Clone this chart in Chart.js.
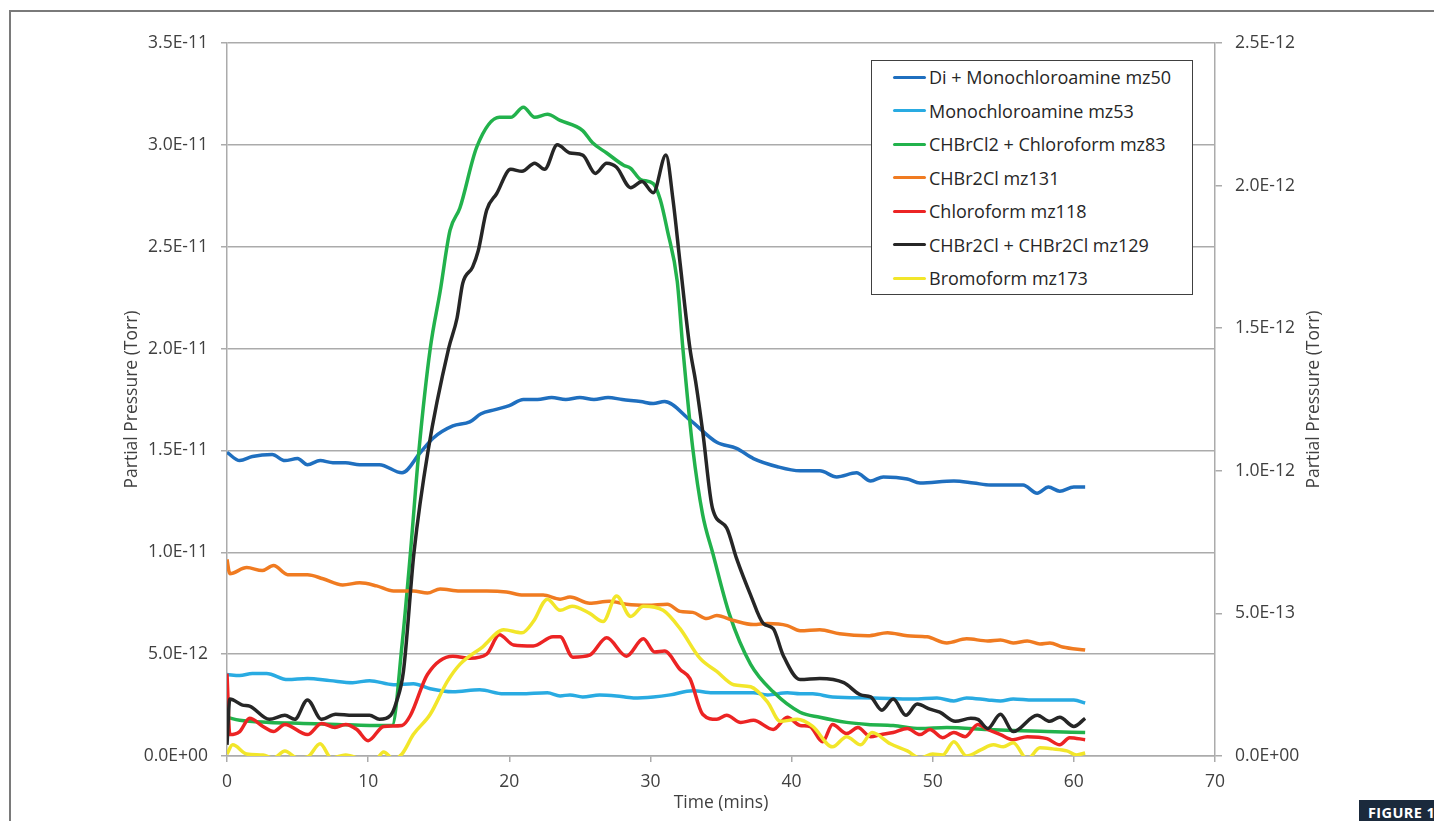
<!DOCTYPE html>
<html>
<head>
<meta charset="utf-8">
<title>Partial Pressure</title>
<script src="https://cdn.jsdelivr.net/npm/chart.js@4"></script>
<style>
    body { margin: 0; background: #fff; }
    #wrap { position: relative; width: 1434px; height: 821px; overflow: hidden; font-family: 'Open Sans', sans-serif; }
    #frame { position: absolute; left: 9px; top: 10px; width: 2000px; height: 2000px; border-left: 2px solid #7a7a7a; border-top: 2px solid #7a7a7a; }
    #chart { position: absolute; left: 0; top: 0; }
    #legend { position: absolute; left: 871px; top: 60px; width: 320px; height: 233px; border: 1.5px solid #404040; background: #fff; }
    .row { position: relative; height: 33.5px; line-height: 32.5px; font-size: 18px; color: #262626; white-space: nowrap; }
    .row span.swatch { position: absolute; left: 21px; top: 14.5px; width: 33px; height: 3px; border-radius: 1.5px; }
    .row span.label { position: absolute; left: 57px; }
    #badge { position: absolute; left: 1359px; top: 800px; width: 120px; height: 25px; background: #1b2a3c; color: #fff; font-weight: 700; font-size: 14.5px; line-height: 25px; padding-left: 9px; letter-spacing: 0.4px; }
</style>
</head>
<body>
<div id="wrap">
    <div id="frame"></div>
    <canvas id="chart" width="1434" height="821"></canvas>
    <div id="legend"></div>
    <div id="badge">FIGURE 1</div>
</div>
<script>
// --- Data: [time (mins), partial pressure in 1E-12 Torr] ---
const mz50 = [[0,14.9],[0.9,14.5],[1.8,14.7],[3.2,14.8],[4.1,14.5],[5.0,14.6],[5.7,14.3],[6.6,14.5],[7.5,14.4],[8.4,14.4],[9.4,14.3],[10.8,14.3],[12.4,13.9],[13.7,14.9],[14.6,15.6],[16.0,16.2],[17.2,16.4],[18,16.8],[19,17.0],[20,17.2],[21,17.5],[22,17.5],[23,17.6],[24,17.5],[25,17.6],[26,17.5],[27,17.6],[28,17.5],[29.3,17.4],[30.2,17.3],[31.0,17.4],[32.8,16.5],[34.7,15.4],[36.1,15.1],[37.3,14.6],[39.0,14.2],[40.6,14.0],[42.0,14.0],[43.2,13.7],[44.6,13.9],[45.6,13.5],[46.5,13.7],[48.2,13.6],[49.1,13.4],[51.5,13.5],[52.9,13.4],[54.1,13.3],[56.4,13.3],[57.4,12.9],[58.2,13.2],[59.0,13.0],[60.0,13.2],[60.8,13.2]];
const mz53 = [[0,4.0],[0.9,3.95],[1.8,4.05],[2.8,4.05],[4.3,3.75],[5.7,3.8],[7.3,3.7],[8.9,3.6],[10.1,3.7],[11.8,3.5],[13.2,3.55],[14.4,3.3],[16.0,3.15],[17.9,3.25],[19.6,3.05],[20.8,3.05],[22.7,3.1],[23.6,2.95],[24.3,3.0],[25.2,2.9],[26.4,3.0],[27.6,2.95],[28.8,2.85],[30.2,2.9],[31.4,3.0],[33.0,3.2],[34.4,3.1],[37.3,3.1],[38.3,3.0],[39.7,3.1],[40.6,3.05],[41.5,3.05],[42.9,2.9],[45.8,2.85],[48.6,2.8],[50.3,2.85],[51.5,2.7],[52.4,2.85],[53.9,2.75],[54.8,2.7],[55.7,2.8],[57.1,2.75],[58.5,2.75],[60.0,2.75],[60.8,2.6]];
const mz83 = [[0,1.9],[0.9,1.75],[3.0,1.65],[5.4,1.6],[7.8,1.55],[10.1,1.5],[11.7,1.5],[12.4,5.45],[13.0,10.0],[13.6,15.0],[14.4,20.0],[15.1,22.8],[15.8,25.8],[16.5,26.9],[17.7,29.9],[19.3,31.35],[20.1,31.35],[21.0,31.85],[21.8,31.35],[22.7,31.5],[23.6,31.2],[25.2,30.7],[25.9,30.1],[26.9,29.6],[28.1,29.0],[28.6,28.85],[29.3,28.3],[30.2,28.1],[30.7,27.3],[31.2,25.8],[31.9,23.3],[32.3,20.0],[33.0,15.1],[33.7,11.85],[34.4,10.0],[35.6,6.95],[37.1,4.5],[38.7,3.15],[40.6,2.15],[42.0,1.9],[43.9,1.65],[45.4,1.55],[47.2,1.5],[49.1,1.35],[51.0,1.4],[53.9,1.3],[55.7,1.25],[58.1,1.2],[60.8,1.15]];
const mz131 = [[0,9.65],[0.2,8.95],[1.4,9.25],[2.5,9.1],[3.3,9.35],[4.3,8.9],[5.7,8.9],[6.8,8.7],[8.2,8.4],[9.4,8.5],[10.6,8.35],[11.8,8.1],[13.2,8.1],[14.2,8.0],[15.1,8.2],[16.5,8.1],[18.4,8.1],[19.8,8.05],[21.0,7.9],[22.4,7.9],[23.6,7.7],[24.3,7.8],[25.7,7.5],[27.1,7.6],[28.3,7.45],[29.8,7.4],[31.2,7.45],[32.1,7.1],[33.0,7.05],[34.0,6.75],[34.7,6.9],[35.9,6.65],[37.3,6.45],[38.3,6.5],[39.7,6.4],[40.6,6.15],[42.0,6.2],[43.4,6.0],[45.4,5.9],[46.8,6.05],[48.2,5.9],[49.6,5.85],[51.0,5.55],[52.4,5.75],[53.9,5.65],[54.8,5.7],[55.7,5.55],[56.7,5.65],[57.6,5.5],[58.3,5.55],[59.2,5.35],[60.8,5.2]];
const mz118 = [[0,4.05],[0.2,1.05],[0.9,1.2],[1.6,1.85],[2.55,1.45],[3.3,1.2],[4.1,1.55],[5.7,1.05],[6.7,1.6],[7.65,1.4],[8.4,1.55],[9.2,1.3],[10.0,0.75],[11.1,1.45],[12.4,1.5],[13.0,2.0],[14.2,4.0],[16.0,4.9],[17.2,4.8],[18.4,5.0],[19.3,5.95],[20.3,5.45],[21.7,5.4],[23.1,5.85],[23.6,5.85],[24.5,4.85],[25.7,4.95],[26.9,5.8],[28.3,4.9],[29.5,5.75],[30.3,5.1],[31.0,5.15],[32.1,4.25],[32.8,3.8],[33.7,2.05],[34.7,1.8],[35.4,2.0],[36.4,1.65],[37.3,1.75],[38.7,1.3],[39.7,1.9],[40.6,1.5],[41.3,1.45],[42.2,0.7],[42.9,1.55],[43.9,1.1],[44.7,1.4],[45.6,0.95],[46.3,1.05],[47.2,1.15],[48.2,1.35],[49.1,1.05],[49.8,1.3],[50.7,0.9],[51.5,1.15],[52.3,0.95],[53.2,1.55],[53.9,1.3],[54.8,1.05],[55.7,0.8],[56.7,0.95],[58.1,0.85],[59.0,0.55],[59.7,0.9],[60.8,0.8]];
const mz129 = [[0,0.55],[0.2,2.8],[1.1,2.5],[1.6,2.45],[3.0,1.8],[4.1,2.0],[4.8,1.8],[5.7,2.75],[6.7,1.8],[7.7,2.05],[8.9,2.0],[10.1,2.0],[10.8,1.8],[11.6,2.0],[12.0,2.65],[12.5,4.15],[13.25,10.0],[14.25,15.0],[15.7,20.0],[16.3,21.5],[16.7,23.2],[17.4,24.0],[17.8,24.8],[18.4,26.8],[19.1,27.6],[20.1,28.8],[20.9,28.7],[21.8,29.1],[22.5,28.8],[23.4,30.0],[24.3,29.6],[25.2,29.5],[26.1,28.6],[26.9,29.1],[27.6,28.9],[28.6,27.9],[29.4,28.2],[30.2,27.65],[31.1,29.5],[31.6,27.3],[32.1,24.2],[32.8,20.0],[33.2,18.4],[33.7,15.95],[34.4,12.15],[35.4,11.2],[36.1,9.7],[37.1,7.9],[38.0,6.5],[38.7,6.25],[39.4,4.95],[40.6,3.75],[42.0,3.8],[43.7,3.6],[44.9,3.0],[45.6,2.9],[46.4,2.25],[47.2,2.8],[48.1,2.0],[48.9,2.55],[49.8,2.3],[50.5,2.15],[51.6,1.7],[52.7,1.85],[53.2,1.8],[53.9,1.35],[54.8,2.05],[55.7,1.2],[57.4,2.0],[58.3,1.7],[59.0,1.9],[60.0,1.45],[60.8,1.85]];
const mz173 = [[0,0.1],[0.4,0.55],[1.4,0.1],[2.55,0.05],[3.3,-0.1],[4.1,0.25],[5.0,-0.1],[5.7,-0.05],[6.6,0.6],[7.4,-0.1],[8.4,0.05],[9.4,-0.15],[10.3,-0.4],[11.1,0.2],[11.8,-0.15],[12.4,0.1],[13.2,1.05],[14.4,2.05],[15.6,3.65],[16.5,4.5],[18.1,5.35],[19.6,6.2],[20.9,6.05],[21.7,6.6],[22.7,7.7],[23.6,7.15],[24.45,7.35],[25.7,7.0],[26.65,6.6],[27.6,7.85],[28.6,6.85],[29.5,7.35],[30.9,7.15],[32.1,6.25],[33.5,4.8],[34.7,4.15],[35.9,3.5],[37.1,3.4],[38.3,2.65],[39.2,1.7],[40.4,1.8],[41.5,1.45],[42.9,0.45],[43.9,0.95],[44.9,0.55],[45.7,1.15],[47.0,0.6],[48.2,0.25],[49.1,-0.1],[50.0,0.1],[50.7,0.05],[51.5,0.7],[52.4,0.0],[53.4,0.3],[54.3,0.55],[55.0,0.45],[55.7,0.65],[56.7,-0.15],[57.6,0.4],[58.5,0.35],[59.5,0.25],[60.2,0.05],[60.8,0.15]];

const seriesLabels = ['Di + Monochloroamine mz50', 'Monochloroamine mz53', 'CHBrCl2 + Chloroform mz83', 'CHBr2Cl mz131', 'Chloroform mz118', 'CHBr2Cl + CHBr2Cl mz129', 'Bromoform mz173'];
const seriesData = [mz50, mz53, mz83, mz131, mz118, mz129, mz173];
const seriesColors = ['#1f6fbf', '#29abe2', '#22b24c', '#f07b21', '#ec2424', '#262626', '#f2e62a'];

const xTicks = { min: 0, max: 70, step: 10 };
const leftTicks = { min: 0, max: 35, step: 5 };     // 1E-12 Torr
const rightTicks = { min: 0, max: 2.5, step: 0.5 }; // 1E-12 Torr
const yTitle = 'Partial Pressure (Torr)';

document.addEventListener('DOMContentLoaded', () => {
    const canvas = document.getElementById('chart');
    const legend = document.getElementById('legend');
    const gridColor = '#ababab';
    const textColor = '#404040';
    const font = { family: "'Open Sans', sans-serif", size: 17.5 };

    // 1E-12 units -> "3.5E-11" style labels
    function sci(v) {
        const val = v * 1e-12;
        if (Math.abs(val) < 1e-20) return '0.0E+00';
        const [m, e] = val.toExponential(1).split('e');
        const n = parseInt(e, 10);
        return m + 'E' + (n < 0 ? '-' : '+') + String(Math.abs(n)).padStart(2, '0');
    }

    // right axis title reads bottom-to-top like the left one
    const rightTitle = {
        id: 'rightTitle',
        afterDraw(chart) {
            const s = chart.scales.y2;
            const ctx = chart.ctx;
            ctx.save();
            ctx.translate(s.right - 10.5, (chart.chartArea.top + chart.chartArea.bottom) / 2);
            ctx.rotate(-Math.PI / 2);
            ctx.fillStyle = textColor;
            ctx.font = `${font.size}px ${font.family}`;
            ctx.textAlign = 'center';
            ctx.textBaseline = 'middle';
            ctx.fillText(yTitle, 0, 0);
            ctx.restore();
        }
    };

    const datasets = seriesData.map((pts, i) => ({
        label: seriesLabels[i],
        data: pts.map(p => ({ x: p[0], y: p[1] })),
        borderColor: seriesColors[i],
        backgroundColor: seriesColors[i],
        borderWidth: 3.5,
        pointRadius: 0,
        cubicInterpolationMode: 'monotone',
        order: seriesData.length - i,
        yAxisID: 'y'
    }));

    new Chart(canvas, {
        type: 'line',
        data: { datasets },
        plugins: [rightTitle],
        options: {
            responsive: false,
            animation: false,
            events: [],
            layout: { padding: { left: 121.5, right: 109, top: 43, bottom: 7 } },
            plugins: { legend: { display: false }, tooltip: { enabled: false } },
            scales: {
                x: {
                    type: 'linear', min: xTicks.min, max: xTicks.max,
                    ticks: { stepSize: xTicks.step, color: textColor, font, padding: 10 },
                    grid: { drawOnChartArea: false, color: gridColor, tickLength: 6, lineWidth: 1.5 },
                    border: { color: gridColor, width: 1.5 },
                    title: { display: true, text: 'Time (mins)', color: textColor, font, padding: 0 },
                    afterFit: s => { s.height = 58; }
                },
                y: {
                    position: 'left', min: leftTicks.min, max: leftTicks.max,
                    ticks: { stepSize: leftTicks.step, color: textColor, font, padding: 13, callback: v => sci(v) },
                    grid: { color: gridColor, tickLength: 6, lineWidth: 1.5 },
                    border: { color: gridColor, width: 1.5 },
                    title: { display: true, text: yTitle, color: textColor, font, padding: 0 },
                    afterFit: s => { s.width = 105.5; }
                },
                y2: {
                    position: 'right', min: rightTicks.min, max: rightTicks.max,
                    ticks: { stepSize: rightTicks.step, color: textColor, font, padding: 13, callback: v => sci(v) },
                    grid: { drawOnChartArea: false, color: gridColor, tickLength: 7, lineWidth: 1.5 },
                    border: { color: gridColor, width: 1.5 },
                    title: { display: false },
                    afterFit: s => { s.width = 110; }
                }
            }
        }
    });

    // --- legend box inside the plot ---
    seriesLabels.forEach((label, i) => {
        const row = document.createElement('div');
        row.className = 'row';
        const sw = document.createElement('span');
        sw.className = 'swatch';
        sw.style.background = seriesColors[i];
        const txt = document.createElement('span');
        txt.className = 'label';
        txt.textContent = label;
        row.appendChild(sw);
        row.appendChild(txt);
        legend.appendChild(row);
    });
});
</script>
</body>
</html>
